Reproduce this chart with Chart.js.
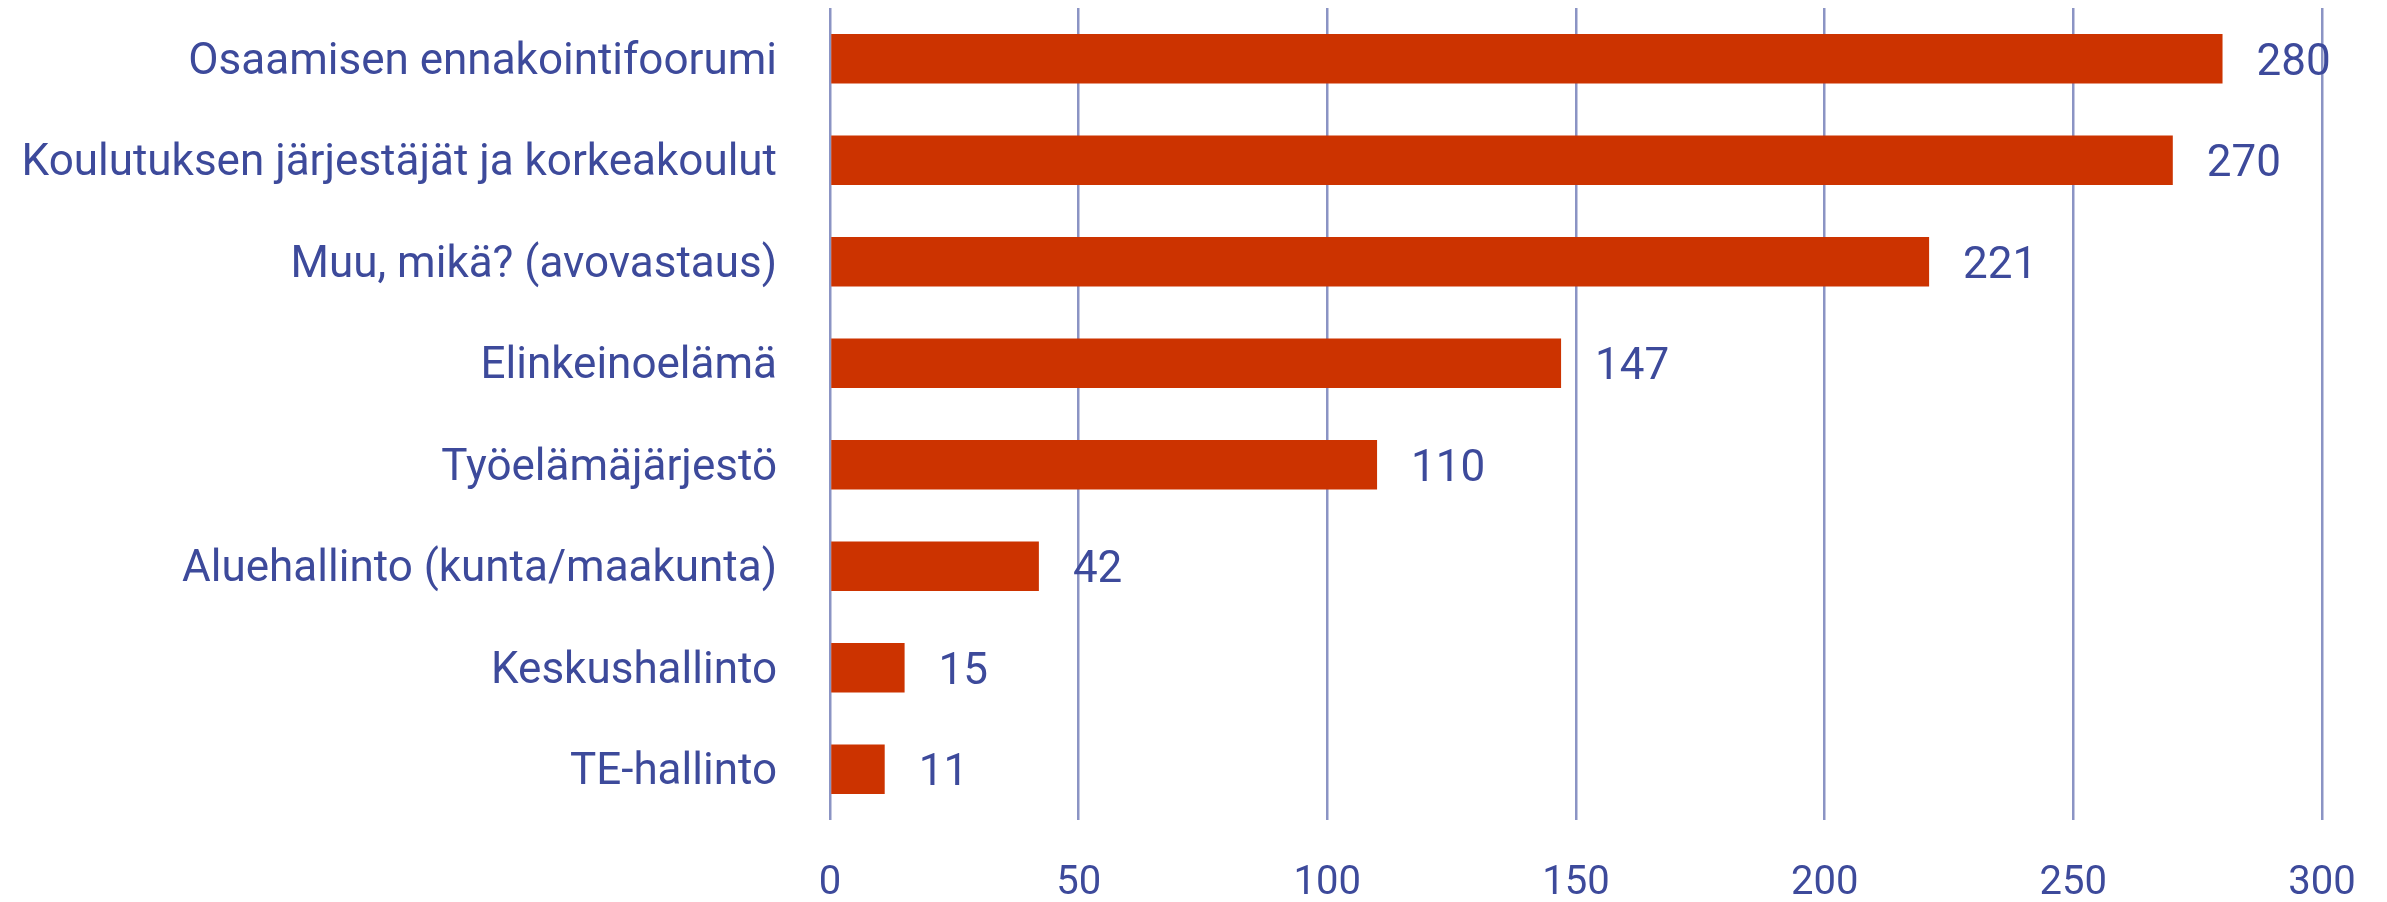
<!DOCTYPE html>
<html>
<head>
<meta charset="utf-8">
<script src="https://cdn.jsdelivr.net/npm/chart.js@4/dist/chart.umd.min.js"></script>
<style>
  html, body { margin: 0; padding: 0; background: #ffffff; }
  #wrap { width: 2387px; height: 902px; position: relative; }
</style>
</head>
<body>
<div id="wrap"><canvas id="barChart"></canvas></div>
<script>
// Data
const categories = [
    'Osaamisen ennakointifoorumi',
    'Koulutuksen järjestäjät ja korkeakoulut',
    'Muu, mikä? (avovastaus)',
    'Elinkeinoelämä',
    'Työelämäjärjestö',
    'Aluehallinto (kunta/maakunta)',
    'Keskushallinto',
    'TE-hallinto'
];
const answers = [280, 270, 221, 147, 110, 42, 15, 11];
const xTicks = [0, 50, 100, 150, 200, 250, 300];

const textColor = '#3d4a9b';
const gridColor = '#8b94c4';
const barColor = '#cc3300';
const fontFamily = 'Roboto, "DejaVu Sans Condensed", sans-serif';

// Draw the value next to each bar
const valueLabels = {
    id: 'valueLabels',
    afterDatasetsDraw(chart) {
        const ctx = chart.ctx;
        const meta = chart.getDatasetMeta(0);
        ctx.save();
        ctx.fillStyle = textColor;
        ctx.font = '44px ' + fontFamily;
        ctx.textAlign = 'left';
        ctx.textBaseline = 'middle';
        meta.data.forEach((bar, i) => {
            ctx.fillText(String(answers[i]), bar.x + 34, bar.y + 5);
        });
        ctx.restore();
    }
};

const config = {
    type: 'bar',
    data: {
        labels: categories,
        datasets: [{
            data: answers,
            backgroundColor: barColor,
            borderWidth: 0,
            categoryPercentage: 1,
            barPercentage: 0.49
        }]
    },
    options: {
        indexAxis: 'y',
        responsive: true,
        maintainAspectRatio: false,
        animation: false,
        layout: { padding: { top: 8, right: 65, left: 0, bottom: 0 } },
        plugins: {
            legend: { display: false },
            tooltip: { enabled: false }
        },
        scales: {
            x: {
                min: 0,
                max: 300,
                afterBuildTicks: (scale) => {
                    scale.ticks = xTicks.map(v => ({ value: v }));
                },
                afterFit: (scale) => {
                    scale.height = 82;
                    scale.paddingLeft = 0;
                    scale.paddingRight = 0;
                },
                border: { display: false },
                grid: {
                    color: gridColor,
                    lineWidth: 2.5,
                    drawTicks: false
                },
                ticks: {
                    color: textColor,
                    padding: 40,
                    font: { family: fontFamily, size: 40 }
                }
            },
            y: {
                afterFit: (scale) => {
                    scale.width = 830;
                    scale.paddingTop = 0;
                    scale.paddingBottom = 0;
                },
                border: { display: false },
                grid: { display: false },
                ticks: {
                    color: textColor,
                    padding: 45,
                    labelOffset: 4,
                    font: { family: fontFamily, size: 44 }
                }
            }
        }
    },
    plugins: [valueLabels]
};

window.onload = () => {
    const ctx = document.getElementById('barChart').getContext('2d');
    new Chart(ctx, config);
};
</script>
</body>
</html>
